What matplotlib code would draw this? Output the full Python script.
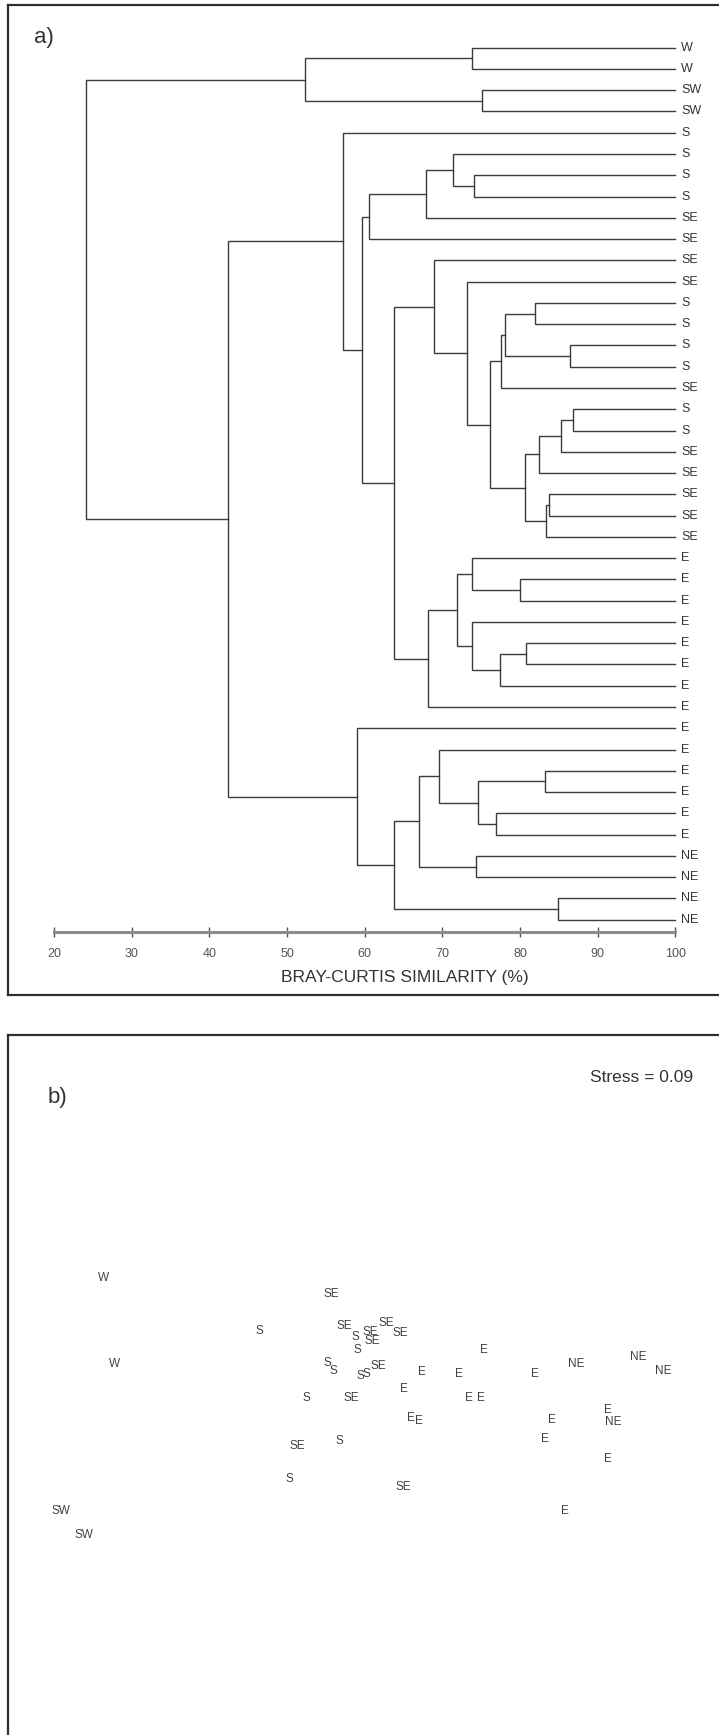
import matplotlib.pyplot as plt

plt.rcParams['font.family'] = ['Liberation Sans', 'DejaVu Sans']

# ---- panel a: dendrogram ----
leaf_labels = (['W', 'W', 'SW', 'SW', 'S', 'S', 'S', 'S', 'SE', 'SE', 'SE', 'SE',
                'S', 'S', 'S', 'S', 'SE', 'S', 'S', 'SE', 'SE', 'SE', 'SE', 'SE']
               + ['E'] * 14 + ['NE'] * 4)

# (child a, child b, similarity %) ; leaves are 0..41, merge k gets id 42+k
merges = [
    (0, 1, 73.8),    # 42
    (2, 3, 75.1),    # 43
    (42, 43, 52.3),  # 44
    (6, 7, 74.1),    # 45
    (5, 45, 71.4),   # 46
    (46, 8, 67.9),   # 47
    (47, 9, 60.6),   # 48
    (12, 13, 81.9),  # 49
    (14, 15, 86.4),  # 50
    (49, 50, 78.0),  # 51
    (51, 16, 77.5),  # 52
    (17, 18, 86.8),  # 53
    (53, 19, 85.3),  # 54
    (54, 20, 82.4),  # 55
    (21, 22, 83.7),  # 56
    (56, 23, 83.3),  # 57
    (55, 57, 80.6),  # 58
    (52, 58, 76.1),  # 59
    (11, 59, 73.1),  # 60
    (10, 60, 68.9),  # 61
    (25, 26, 80.0),  # 62
    (24, 62, 73.8),  # 63
    (28, 29, 80.8),  # 64
    (64, 30, 77.4),  # 65
    (27, 65, 73.8),  # 66
    (63, 66, 71.9),  # 67
    (67, 31, 68.2),  # 68
    (61, 68, 63.8),  # 69
    (48, 69, 59.7),  # 70
    (4, 70, 57.2),   # 71
    (34, 35, 83.2),  # 72
    (36, 37, 76.9),  # 73
    (72, 73, 74.6),  # 74
    (33, 74, 69.5),  # 75
    (38, 39, 74.3),  # 76
    (75, 76, 67.0),  # 77
    (40, 41, 84.9),  # 78
    (77, 78, 63.8),  # 79
    (32, 79, 59.0),  # 80
    (71, 80, 42.4),  # 81
    (44, 81, 24.1),  # 82
]
sim_ticks = [20, 30, 40, 50, 60, 70, 80, 90, 100]

# ---- panel b: nMDS ordination ----
mds_labels = (['S'] * 10 + ['SE'] * 10 + ['E'] * 14 + ['NE'] * 4 + ['W'] * 2 + ['SW'] * 2)
mds_x = [-1.01, -0.05, -0.03, -0.33, -0.27, 0.00, 0.06, -0.54, -0.21, -0.71,
         -0.29, -0.16, 0.10, 0.26, 0.40, 0.12, 0.18, -0.09, -0.63, 0.43,
         1.24, 0.62, 0.99, 1.75, 0.44, 1.09, 1.21, 0.51, 0.59, 1.92, 2.48, 1.85, 2.48, 2.05,
         2.16, 2.78, 3.03, 2.53,
         -2.56, -2.45,
         -2.99, -2.76]
mds_y = [0.69, 0.63, 0.50, 0.37, 0.29, 0.24, 0.26, 0.02, -0.41, -0.79,
         1.06, 0.74, 0.68, 0.77, 0.67, 0.59, 0.34, 0.02, -0.46, -0.87,
         0.50, 0.28, 0.26, 0.26, 0.11, 0.02, 0.02, -0.18, -0.21, -0.20, -0.10, -0.39, -0.59, -1.11,
         0.36, 0.43, 0.29, -0.22,
         1.22, 0.36,
         -1.11, -1.35]
stress = 0.09

W, H = 719, 1735
fig = plt.figure(figsize=(W / 100, H / 100), dpi=100)


def px_box(left, top, right, bottom):
    return [left / W, 1 - bottom / H, (right - left) / W, (bottom - top) / H]


frame_col = '#2e2e2e'
line_col = '#3c3c3c'

ax1 = fig.add_axes(px_box(8, 5, 730, 995))
ax1.set_xlim(14.06, 107.03)
ax1.set_ylim(44.54, -2.007)
ax1.set_xticks([])
ax1.set_yticks([])
for sp in ax1.spines.values():
    sp.set_color(frame_col)
    sp.set_linewidth(1.6)

n = len(leaf_labels)
pos = {i: (100.0, float(i)) for i in range(n)}
for k, (a, b, h) in enumerate(merges):
    xa, ya = pos[a]
    xb, yb = pos[b]
    ax1.plot([xa, h, h, xb], [ya, ya, yb, yb], color=line_col, lw=1.0,
             solid_joinstyle='miter')
    pos[n + k] = (h, (ya + yb) / 2)

for i, lab in enumerate(leaf_labels):
    ax1.text(100.75, i, lab, ha='left', va='center', fontsize=9, color='#333333')

sec = ax1.secondary_xaxis((995 - 932) / 990)
sec.set_xticks(sim_ticks)
sec.spines['bottom'].set_bounds(20, 100)
sec.spines['bottom'].set_color('#8c8c8c')
sec.spines['bottom'].set_linewidth(2.2)
sec.tick_params(direction='inout', length=7, width=1.0, color='#555555',
                labelsize=9, labelcolor='#555555', pad=8)

fig.text(404.5 / W, 1 - 977 / H, 'BRAY-CURTIS SIMILARITY (%)', ha='center',
         va='center', fontsize=12.5, color='#333333')
fig.text(44 / W, 1 - 38 / H, 'a)', ha='center', va='center', fontsize=16,
         color='#333333')

ax2 = fig.add_axes(px_box(8, 1035, 730, 1745))
ax2.set_xlim(-3.52, 3.70)
ax2.set_ylim(-3.45, 3.65)
ax2.set_xticks([])
ax2.set_yticks([])
for sp in ax2.spines.values():
    sp.set_color(frame_col)
    sp.set_linewidth(1.6)

for lab, x, y in zip(mds_labels, mds_x, mds_y):
    ax2.text(x, y, lab, ha='center', va='center', fontsize=8.5, color='#404040')

fig.text(57 / W, 1 - 1097 / H, 'b)', ha='center', va='center', fontsize=16,
         color='#333333')
fig.text(642 / W, 1 - 1077 / H, 'Stress = %.2f' % stress, ha='center', va='center',
         fontsize=12.5, color='#333333')

fig.savefig('out.png', dpi=100)
